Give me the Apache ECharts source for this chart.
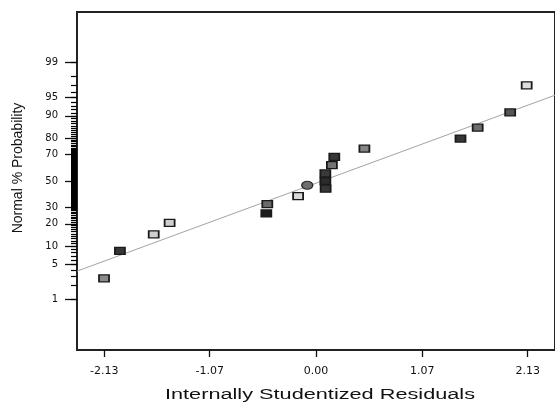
<!DOCTYPE html>
<html>
<head>
<meta charset="utf-8">
<script src="https://cdn.jsdelivr.net/npm/echarts@6/dist/echarts.min.js"></script>
<style>
html,body{margin:0;padding:0;background:#fff;}
#chart{width:555px;height:405px;}
</style>
</head>
<body>
<div id="chart"></div>
<script>
// points: residual (x) and normal % probability (y)
var residuals = [-2.133, -1.973, -1.633, -1.473, -0.500, -0.490, -0.180, 0.097, 0.094, 0.094, 0.160, 0.184, 0.487, 1.454, 1.627, 1.954, 2.120];
var probability = [2.8, 8.5, 14.7, 20.5, 26.2, 32.4, 38.3, 44.0, 50.0, 55.9, 62.2, 68.2, 73.8, 79.8, 85.3, 91.1, 97.0];
// the round marker
var circleResidual = [-0.088];
var circleProbability = [46.7];
// straight reference line, end points at the plot edges
var lineResiduals = [-2.405, 2.405];
var lineProbability = [3.83, 95.41];
// tick labels
var xTicks = [-2.13, -1.07, 0.00, 1.07, 2.13];
var yTicks = [1, 5, 10, 20, 30, 50, 70, 80, 90, 95, 99];
var yMinorTicks = [];
for (var i = 1; i < 100; i++) yMinorTicks.push(i); // every whole percent

// marker fill shades, one per square
var pointShade = ['#8a8a8a', '#363636', '#cfcfcf', '#cfcfcf', '#1c1c1c', '#6a6a6a', '#dadada', '#363636', '#2c2c2c',
    '#3a3a3a', '#747474', '#363636', '#858585', '#363636', '#6e6e6e', '#555555', '#dddddd'];

// inverse normal cdf (Acklam), used for the probability scale
var probit = function(p){
    var a = [-3.969683028665376e+01, 2.209460984245205e+02, -2.759285104469687e+02, 1.383577518672690e+02, -3.066479806614716e+01, 2.506628277459239e+00];
    var b = [-5.447609879822406e+01, 1.615858368580409e+02, -1.556989798598866e+02, 6.680131188771972e+01, -1.328068155288572e+01];
    var c = [-7.784894002430293e-03, -3.223964580411365e-01, -2.400758277161838e+00, -2.549732539343734e+00, 4.374664141464968e+00, 2.938163982698783e+00];
    var d = [7.784695709041462e-03, 3.224671290700398e-01, 2.445134137142996e+00, 3.754408661907416e+00];
    var q, r;
    if (p < 0.02425) {
        q = Math.sqrt(-2 * Math.log(p));
        return (((((c[0]*q+c[1])*q+c[2])*q+c[3])*q+c[4])*q+c[5]) / ((((d[0]*q+d[1])*q+d[2])*q+d[3])*q+1);
    }
    if (p > 1 - 0.02425) {
        q = Math.sqrt(-2 * Math.log(1 - p));
        return -(((((c[0]*q+c[1])*q+c[2])*q+c[3])*q+c[4])*q+c[5]) / ((((d[0]*q+d[1])*q+d[2])*q+d[3])*q+1);
    }
    q = p - 0.5; r = q * q;
    return (((((a[0]*r+a[1])*r+a[2])*r+a[3])*r+a[4])*r+a[5])*q / (((((b[0]*r+b[1])*r+b[2])*r+b[3])*r+b[4])*r+1);
};
var zOf = function(pct){ return probit(pct / 100); };

var yMajor = yTicks.map(zOf);
var yMinor = yMinorTicks.map(zOf);
// ticks in the middle sit ~1.3px apart and merge into a solid band
var yMinorDense = yMinorTicks.filter(function(p){ return p >= 29 && p <= 73; }).map(zOf);

var squares = residuals.map(function(x, i){
    return { value: [x, zOf(probability[i])], itemStyle: { color: pointShade[i] } };
});
var circles = circleResidual.map(function(x, i){ return [x, zOf(circleProbability[i])]; });
var fitLine = lineResiduals.map(function(x, i){ return [x, zOf(lineProbability[i])]; });

var minorAxis = function(ticks, w){
    return {
        type: 'value', min: -3.32, max: 3.32, position: 'left',
        axisLine: { show: false, onZero: false },
        splitLine: { show: false },
        axisLabel: { show: false },
        axisTick: { show: true, length: 6, customValues: ticks, lineStyle: { color: '#000', width: w } }
    };
};

var chart = echarts.init(document.getElementById('chart'), null, { renderer: 'canvas' });
var option = {
    animation: false,
    backgroundColor: '#ffffff',
    grid: { left: 77, top: 12, right: -3, bottom: 55, show: true, borderColor: '#222', borderWidth: 2, backgroundColor: 'transparent' },
    xAxis: {
        type: 'value', min: -2.405, max: 2.405,
        axisLine: { show: false, onZero: false },
        splitLine: { show: false },
        axisTick: { show: true, length: 7, customValues: xTicks, lineStyle: { color: '#111', width: 1.3 } },
        axisLabel: {
            customValues: xTicks, margin: 16, fontSize: 11, fontFamily: 'DejaVu Sans', color: '#111',
            formatter: function(v){ return v.toFixed(2); }
        }
    },
    yAxis: [
        {
            type: 'value', min: -3.32, max: 3.32, position: 'left',
            axisLine: { show: false, onZero: false },
            splitLine: { show: false },
            axisTick: { show: true, length: 12, customValues: yMajor, lineStyle: { color: '#111', width: 1.3 } },
            axisLabel: {
                customValues: yMajor, margin: 19, fontSize: 10, fontFamily: 'DejaVu Sans', color: '#111',
                formatter: function(v){
                    for (var k = 0; k < yTicks.length; k++) {
                        if (Math.abs(yMajor[k] - v) < 1e-6) return String(yTicks[k]);
                    }
                    return '';
                }
            }
        },
        minorAxis(yMinor, 1.2),
        minorAxis(yMinorDense, 2.4)
    ],
    series: [
        {
            type: 'line', data: fitLine, showSymbol: false, silent: true, z: 1,
            lineStyle: { color: '#a3a3a3', width: 1 }
        },
        {
            type: 'scatter', data: squares, symbol: 'rect', symbolSize: [10, 7], z: 3,
            itemStyle: { borderColor: '#1a1a1a', borderWidth: 1.5, opacity: 1 }
        },
        {
            type: 'scatter', data: circles, symbol: 'circle', symbolSize: [11, 8], z: 3,
            itemStyle: { color: '#6e6e6e', borderColor: '#2a2a2a', borderWidth: 1.2, opacity: 1 }
        }
    ],
    graphic: [
        {
            type: 'text', x: 320, y: 395, scaleX: 1.55,
            style: { text: 'Internally Studentized Residuals', x: 0, y: 0, align: 'center', verticalAlign: 'middle',
                font: '14px "Liberation Sans", Arial, sans-serif', fill: '#111' }
        },
        {
            type: 'text', x: 18, y: 168, rotation: Math.PI / 2,
            style: { text: 'Normal % Probability', x: 0, y: 0, align: 'center', verticalAlign: 'middle',
                font: '14px "Liberation Sans", Arial, sans-serif', fill: '#111' }
        }
    ]
};
chart.setOption(option);
</script>
</body>
</html>
